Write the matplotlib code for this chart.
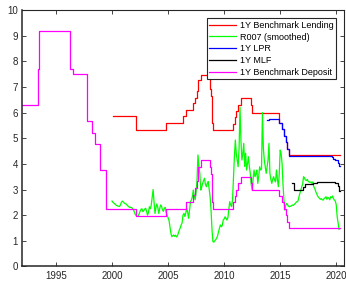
import numpy as np
import matplotlib
matplotlib.use('Agg')
import matplotlib.pyplot as plt

plt.rcParams['font.family'] = ['Liberation Sans', 'DejaVu Sans']

# 1Y benchmark lending rate (change dates, value), last point = end of data
lend_t = [2000.08, 2002.14, 2004.83, 2006.32, 2006.63, 2007.21, 2007.38, 2007.55, 2007.64,
          2007.7, 2007.97, 2008.71, 2008.77, 2008.83, 2008.9, 2008.98, 2010.8, 2010.98,
          2011.1, 2011.26, 2011.51, 2012.44, 2012.51, 2014.9, 2015.16, 2015.36, 2015.49,
          2015.65, 2015.81, 2020.3]
lend_v = [5.85, 5.31, 5.58, 5.85, 6.12, 6.39, 6.57, 6.84, 7.02, 7.29, 7.47, 7.20, 6.93,
          6.66, 5.58, 5.31, 5.56, 5.81, 6.06, 6.31, 6.56, 6.31, 6.00, 5.60, 5.35, 5.10,
          4.85, 4.60, 4.35, 4.35]

# 1Y benchmark deposit rate
dep_t = [1992.0, 1993.37, 1993.52, 1996.29, 1996.5, 1997.8, 1998.22, 1998.5, 1998.94,
         1999.42, 2002.14, 2004.83, 2006.63, 2007.21, 2007.38, 2007.55, 2007.64, 2007.7,
         2007.97, 2008.77, 2008.83, 2008.9, 2008.98, 2010.8, 2010.98, 2011.1, 2011.26,
         2011.51, 2012.44, 2012.51, 2014.9, 2015.16, 2015.36, 2015.49, 2015.65, 2015.81,
         2020.3]
dep_v = [6.3, 7.7, 9.2, 7.7, 7.5, 5.67, 5.22, 4.77, 3.78, 2.25, 1.98, 2.25, 2.52, 2.79,
         3.06, 3.33, 3.60, 3.87, 4.14, 3.87, 3.60, 2.52, 2.25, 2.50, 2.75, 3.00, 3.25,
         3.50, 3.25, 3.00, 2.75, 2.50, 2.25, 2.00, 1.75, 1.50, 1.50]

# 1Y LPR
lpr_t = [2013.8, 2014.0, 2014.88, 2015.16, 2015.36, 2015.49, 2015.65, 2015.81, 2019.63,
         2019.72, 2019.88, 2020.13, 2020.27, 2020.3]
lpr_v = [5.72, 5.77, 5.60, 5.35, 5.10, 4.85, 4.60, 4.30, 4.25, 4.20, 4.15, 4.05, 3.92, 3.92]

# 1Y MLF
mlf_t = [2016.05, 2016.2, 2017.07, 2017.2, 2017.95, 2018.3, 2019.85, 2020.13, 2020.27, 2020.3]
mlf_v = [3.25, 3.00, 3.10, 3.20, 3.25, 3.30, 3.25, 3.15, 2.95, 2.95]

# R007 (smoothed), monthly from Jan 2000
r007 = [
    2.55, 2.50, 2.47, 2.44, 2.40, 2.38, 2.36, 2.35, 2.34, 2.40, 2.50, 2.55,  # 2000
    2.52, 2.48, 2.45, 2.44, 2.40, 2.36, 2.33, 2.30, 2.31, 2.30, 2.25, 2.20,  # 2001
    2.12, 2.02, 1.98, 1.96, 1.97, 2.05, 2.15, 2.23, 2.25, 2.14, 2.18, 2.24,  # 2002
    2.27, 2.15, 2.00, 2.10, 2.33, 2.25, 2.40, 2.70, 3.00, 2.50, 2.07, 2.30,  # 2003
    2.44, 2.30, 2.07, 2.25, 2.40, 2.35, 2.20, 2.15, 2.27, 2.30, 2.10, 2.00,  # 2004
    1.90, 1.80, 1.55, 1.30, 1.16, 1.20, 1.23, 1.18, 1.22, 1.15, 1.20, 1.30,  # 2005
    1.42, 1.50, 1.62, 1.70, 2.00, 2.07, 1.95, 2.10, 2.27, 2.10, 1.88, 2.20,  # 2006
    2.53, 2.60, 2.72, 2.98, 2.75, 2.60, 2.90, 3.37, 4.35, 3.90, 3.63, 2.98,  # 2007
    3.10, 3.24, 3.35, 3.44, 3.20, 3.11, 3.25, 3.31, 3.00, 2.72, 2.20, 1.45,  # 2008
    0.97, 0.95, 1.00, 1.05, 1.10, 1.20, 1.35, 1.50, 1.62, 1.55, 1.60, 1.81,  # 2009
    1.85, 1.94, 1.88, 1.81, 1.90, 2.20, 2.53, 2.40, 2.33, 2.60, 3.50, 4.30,  # 2010
    4.93, 4.40, 4.15, 3.89, 4.60, 6.20, 4.90, 4.15, 4.40, 4.80, 3.90, 4.42,  # 2011
    3.76, 4.00, 4.28, 3.90, 3.63, 3.20, 2.98, 3.40, 3.76, 3.50, 3.60, 3.76,  # 2012
    3.24, 3.50, 3.89, 3.76, 3.80, 6.00, 4.60, 4.15, 3.90, 3.63, 3.90, 4.15,  # 2013
    4.80, 3.63, 3.40, 3.24, 3.40, 3.50, 3.37, 3.30, 3.76, 3.40, 3.11, 3.60,  # 2014
    4.54, 4.40, 4.02, 3.20, 2.60, 2.20, 2.40, 2.46, 2.40, 2.35, 2.33, 2.35,  # 2015
    2.36, 2.40, 2.38, 2.42, 2.45, 2.50, 2.53, 2.55, 2.70, 2.85, 2.95, 3.11,  # 2016
    3.20, 3.50, 3.45, 3.37, 3.35, 3.40, 3.31, 3.30, 3.28, 3.30, 3.24, 3.30,  # 2017
    3.10, 3.05, 2.92, 2.85, 2.75, 2.70, 2.66, 2.62, 2.65, 2.60, 2.59, 2.65,  # 2018
    2.68, 2.72, 2.62, 2.70, 2.66, 2.60, 2.72, 2.68, 2.75, 2.65, 2.59, 2.55,  # 2019
    2.40, 1.94, 1.70, 1.45,                                                  # 2020
]
r007_t = 2000 + np.arange(len(r007)) / 12

fig = plt.figure(figsize=(3.46, 2.82), dpi=100)
ax = fig.add_axes([0.0645, 0.055, 0.93, 0.9095])

lw = 0.9
ax.step(lend_t, lend_v, where='post', color='red', lw=lw, label='1Y Benchmark Lending')
ax.plot(r007_t, r007, color='#00ff00', lw=lw, label='R007 (smoothed)')
ax.step(lpr_t, lpr_v, where='post', color='blue', lw=lw, label='1Y LPR')
ax.step(mlf_t, mlf_v, where='post', color='black', lw=lw, label='1Y MLF')
ax.step(dep_t, dep_v, where='post', color='magenta', lw=lw, label='1Y Benchmark Deposit')

ax.set_xlim(1992, 2020.7)
ax.set_ylim(0, 10)
ax.set_xticks([1995, 2000, 2005, 2010, 2015, 2020])
ax.set_yticks(range(0, 11))

for s in ax.spines.values():
    s.set_color('#262626')
    s.set_linewidth(0.8)
ax.spines['left'].set_linewidth(1.1)
ax.spines['bottom'].set_linewidth(1.1)
ax.tick_params(direction='in', length=3, width=0.6, top=True, right=True,
               labelsize=7, colors='#262626', pad=3)

leg = ax.legend(loc='upper right', bbox_to_anchor=(0.975, 0.968), borderaxespad=0,
                fontsize=6.5, fancybox=False, framealpha=1, edgecolor='#262626',
                handlelength=2.9, handletextpad=0.45, borderpad=0.3, labelspacing=0.3)
leg.get_frame().set_linewidth(0.8)

fig.savefig('out.png', dpi=100)
